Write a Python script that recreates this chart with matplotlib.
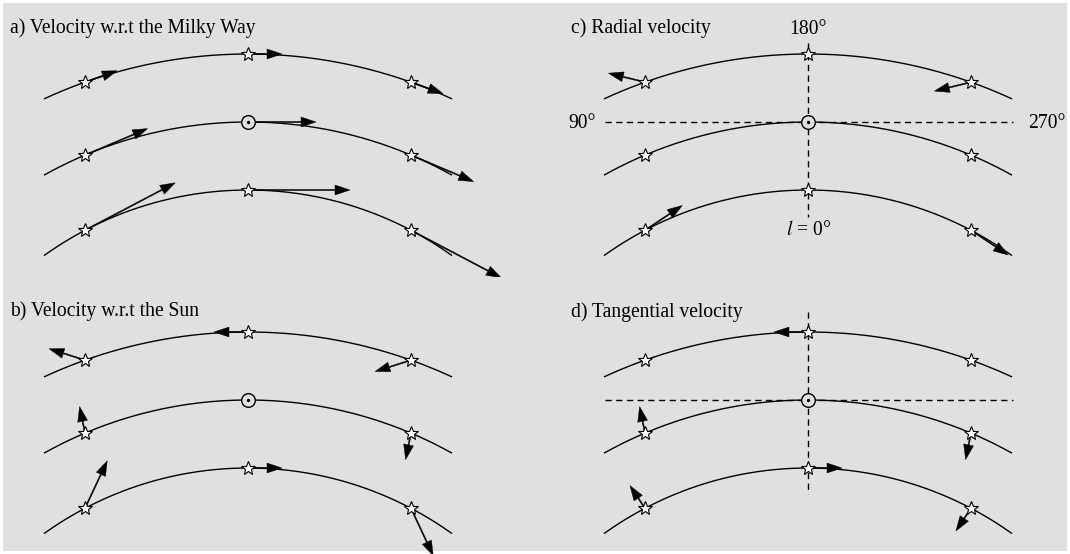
import numpy as np
import matplotlib
matplotlib.use("Agg")
import matplotlib.pyplot as plt
from matplotlib.patches import Rectangle

# ---------------- data ----------------
panel_titles = ["a) Velocity w.r.t the Milky Way", "b) Velocity w.r.t the Sun",
                "c) Radial velocity", "d) Tangential velocity"]
panel_modes = ["galactic", "relative", "radial", "tangential"]
ring_radius = [486, 418, 350]      # galactocentric radius of the rings (outer, solar, inner)
ring_speed = [34, 68, 102]         # rotation speed on each ring
star_offset = [-163, 0, 163]       # position of the stars along each ring
sun_ring = 1
arc_half_width = 204
longitude_labels = ["180°", "90°", "270°", "$l$ = 0°"]

# ---------------- style / layout ----------------
W, H = 1070, 554
BG = "#e0e0e0"
plt.rcParams["font.family"] = ["Liberation Serif", "DejaVu Serif"]
plt.rcParams["mathtext.fontset"] = "stix"
FS = 14.1
LW = 1.0

fig = plt.figure(figsize=(W / 100, H / 100), dpi=100, facecolor="white")
bg = Rectangle((3 / W, 3 / H), 1 - 6 / W, 1 - 6 / H, transform=fig.transFigure,
               facecolor=BG, edgecolor="none", zorder=-10)
fig.add_artist(bg)

# panel rect in pixels (left, top, width, height) and galactic-centre pixel position
panels = [
    ((0, 0, 535, 277), (248, 540)),
    ((0, 277, 535, 277), (248, 818)),
    ((535, 0, 535, 277), (808, 540)),
    ((535, 277, 535, 277), (808, 818)),
]
title_pos = [(10, 33), (10, 316), (571, 33), (571, 317)]


def pos(R, dx):
    return np.array([dx, np.sqrt(R * R - dx * dx)])


def vel(R, v, dx):
    p = pos(R, dx)
    return v * np.array([p[1], -p[0]]) / R


sun_p = pos(ring_radius[sun_ring], 0)
sun_v = vel(ring_radius[sun_ring], ring_speed[sun_ring], 0)

for k, ((left, top, w, h), (gx, gy)) in enumerate(panels):
    ax = fig.add_axes([left / W, 1 - (top + h) / H, w / W, h / H])
    ax.set_zorder(1)
    ax.set_xlim(left - gx, left + w - gx)
    ax.set_ylim(gy - (top + h), gy - top)
    ax.axis("off")
    mode = panel_modes[k]

    # rings
    for R in ring_radius:
        xs = np.linspace(-arc_half_width, arc_half_width, 400)
        ax.plot(xs, np.sqrt(R * R - xs * xs), color="black", lw=LW, zorder=2,
                solid_capstyle="butt")

    # guide lines for c and d
    if mode == "radial":
        ax.plot([0, 0], [497, 323], color="black", lw=LW, ls=(0, (4.5, 3.2)), zorder=1)
        ax.plot([-203, 205], [sun_p[1]] * 2, color="black", lw=LW, ls=(0, (4.5, 3.2)), zorder=1)
        ax.text(0, 506, longitude_labels[0], ha="center", va="baseline", fontsize=FS)
        ax.text(-212, 412, longitude_labels[1], ha="right", va="baseline", fontsize=FS)
        ax.text(220, 412, longitude_labels[2], ha="left", va="baseline", fontsize=FS)
        ax.text(1, 305, longitude_labels[3], ha="center", va="baseline", fontsize=FS)
    if mode == "tangential":
        ax.plot([0, 0], [506, 324], color="black", lw=LW, ls=(0, (4.5, 3.2)), zorder=1)
        ax.plot([-203, 205], [sun_p[1]] * 2, color="black", lw=LW, ls=(0, (4.5, 3.2)), zorder=1)

    # stars, sun and velocity arrows
    for i, (R, v) in enumerate(zip(ring_radius, ring_speed)):
        for dx in star_offset:
            p = pos(R, dx)
            is_sun = (i == sun_ring and dx == 0)
            vv = vel(R, v, dx)
            if mode == "galactic":
                vec = vv
            else:
                rel = vv - sun_v
                if is_sun:
                    vec = np.zeros(2)
                else:
                    u = (p - sun_p) / np.linalg.norm(p - sun_p)
                    vr = np.dot(rel, u) * u
                    vec = {"relative": rel, "radial": vr, "tangential": rel - vr}[mode]
            L = np.linalg.norm(vec)
            if L > 6:
                ax.arrow(p[0], p[1], vec[0], vec[1], width=1.2, head_width=10,
                         head_length=min(15, 0.8 * L), length_includes_head=True,
                         fc="black", ec="black", lw=0.3, zorder=3)
            if is_sun:
                ax.plot(p[0], p[1], marker="o", ms=9.8, mfc=BG, mec="black", mew=1.0, zorder=5)
                ax.plot(p[0], p[1], marker="o", ms=2.4, mfc="black", mec="black", mew=0, zorder=6)
            else:
                ax.plot(p[0], p[1], marker="*", ms=10.3, mfc="white", mec="black", mew=0.8, zorder=5)

    tx, ty = title_pos[k]
    fig.text(tx / W, 1 - ty / H, panel_titles[k], ha="left", va="baseline", fontsize=FS, zorder=2)

fig.savefig("out.png", dpi=100, facecolor="white")
